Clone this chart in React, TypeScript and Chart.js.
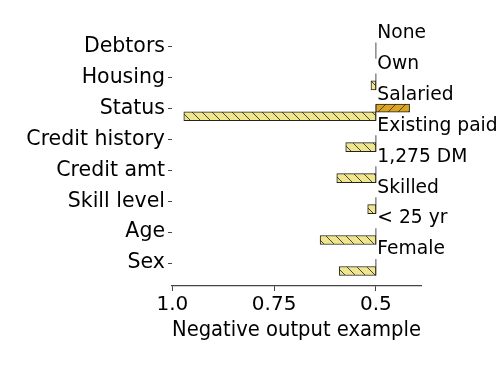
import React, { useEffect, useRef } from "react";
import { Chart, registerables } from "chart.js";

Chart.register(...registerables);

const categories = ["Debtors", "Housing", "Status", "Credit history", "Credit amt", "Skill level", "Age", "Sex"];
const featureValues = ["None", "Own", "Salaried", "Existing paid", "1,275 DM", "Skilled", "< 25 yr", "Female"];
const negativeContrib: (number | null)[] = [null, 0.512, 0.972, 0.574, 0.596, 0.52, 0.637, 0.59];
const positiveContrib: (number | null)[] = [null, null, 0.417, null, null, null, null, null];
const baseline = 0.5;
const xTickValues = [1.0, 0.75, 0.5];
const xTickLabels = ["1.0", "0.75", "0.5"];
const xTitle = "Negative output example";

const FONT = "DejaVu Sans";

function makeHatch(ctx: CanvasRenderingContext2D, bg: string, line: string, dir: "back" | "fwd") {
  const s = 10;
  const c = document.createElement("canvas");
  c.width = s;
  c.height = s;
  const g = c.getContext("2d")!;
  g.fillStyle = bg;
  g.fillRect(0, 0, s, s);
  g.strokeStyle = line;
  g.lineWidth = 1;
  g.beginPath();
  if (dir === "back") {
    g.moveTo(-1, -1);
    g.lineTo(s + 1, s + 1);
    g.moveTo(-1, s - 1);
    g.lineTo(1, s + 1);
    g.moveTo(s - 1, -1);
    g.lineTo(s + 1, 1);
  } else {
    g.moveTo(-1, s + 1);
    g.lineTo(s + 1, -1);
    g.moveTo(-1, 1);
    g.lineTo(1, -1);
    g.moveTo(s - 1, s + 1);
    g.lineTo(s + 1, s - 1);
  }
  g.stroke();
  return ctx.createPattern(c, "repeat")!;
}

export default function App() {
  const ref = useRef<HTMLCanvasElement | null>(null);

  useEffect(() => {
    const canvas = ref.current!;
    const ctx = canvas.getContext("2d")!;
    const yellow = makeHatch(ctx, "#f0e68c", "#444", "back");
    const orange = makeHatch(ctx, "#daa520", "#5a4010", "fwd");

    const rows = categories.map((_, i) => i);

    const lineSets = rows.map((i) => ({
      type: "line" as const,
      data: [
        { x: baseline, y: i - 0.13 },
        { x: baseline, y: i + 0.4 },
      ],
      borderColor: "#8a8a8a",
      borderWidth: 1.5,
      pointRadius: 0,
      fill: false,
      order: 5,
    }));

    const labelPlugin = {
      id: "featureLabels",
      afterDatasetsDraw(chart: any) {
        const { ctx: c, scales } = chart;
        const xs = scales.x;
        const ys = scales.y;
        c.save();
        c.font = `18.7px "${FONT}"`;
        c.fillStyle = "#000";
        c.textAlign = "left";
        c.textBaseline = "alphabetic";
        featureValues.forEach((t, i) => {
          c.fillText(t, xs.getPixelForValue(baseline) + 1.5, ys.getPixelForValue(i - 0.28));
        });
        c.restore();
      },
    };

    const chart = new Chart(ctx, {
      type: "bar",
      data: {
        datasets: [
          {
            type: "bar",
            data: rows
              .filter((i) => negativeContrib[i] != null)
              .map((i) => ({ y: i + 0.255, x: [baseline, negativeContrib[i] as number] })),
            backgroundColor: yellow,
            borderColor: "#222",
            borderWidth: 1,
            borderSkipped: false,
            barThickness: 9,
            grouped: false,
            order: 1,
          } as any,
          {
            type: "bar",
            data: rows
              .filter((i) => positiveContrib[i] != null)
              .map((i) => ({ y: i - 0.01, x: [baseline, positiveContrib[i] as number] })),
            backgroundColor: orange,
            borderColor: "#222",
            borderWidth: 1,
            borderSkipped: false,
            barThickness: 8,
            grouped: false,
            order: 1,
          } as any,
          ...(lineSets as any[]),
        ],
      },
      options: {
        indexAxis: "y",
        animation: false,
        responsive: false,
        devicePixelRatio: 1,
        layout: { padding: { top: 31, right: 77, bottom: 0, left: 0 } },
        plugins: { legend: { display: false }, tooltip: { enabled: false } },
        scales: {
          x: {
            type: "linear",
            reverse: true,
            offset: false,
            min: 0.389,
            max: 1.001,
            afterBuildTicks: (s: any) => {
              s.ticks = xTickValues.map((v) => ({ value: v }));
            },
            afterFit: (s: any) => {
              s.height = 81;
            },
            ticks: {
              autoSkip: false,
              maxRotation: 0,
              padding: 2,
              color: "#000",
              font: { family: FONT, size: 20 },
              callback: (_v: any, idx: number) => xTickLabels[idx],
            },
            grid: { offset: false, drawOnChartArea: false, drawTicks: true, tickLength: 5, color: "#444", lineWidth: 1 },
            border: { display: true, color: "#444", width: 1.2 },
            title: {
              display: true,
              text: xTitle,
              color: "#000",
              font: { family: FONT, size: 21 },
              padding: { top: 0, bottom: 23.5 },
            },
          },
          y: {
            type: "linear",
            reverse: true,
            offset: false,
            min: -0.5,
            max: 7.74,
            afterBuildTicks: (s: any) => {
              s.ticks = categories.map((_, i) => ({ value: i }));
            },
            afterFit: (s: any) => {
              s.width = 172;
            },
            ticks: {
              autoSkip: false,
              padding: 3,
              color: "#000",
              font: { family: FONT, size: 20.5 },
              callback: (_v: any, idx: number) => categories[idx],
            },
            grid: { offset: false, drawOnChartArea: false, drawTicks: true, tickLength: 4, color: "#444", lineWidth: 1 },
            border: { display: false },
          },
        },
      } as any,
      plugins: [labelPlugin],
    });

    return () => chart.destroy();
  }, []);

  return (
    <canvas
      ref={ref}
      width={498}
      height={367}
      style={{ position: "fixed", left: 0, top: 0, width: 498, height: 367, display: "block", background: "#fff" }}
    />
  );
}
